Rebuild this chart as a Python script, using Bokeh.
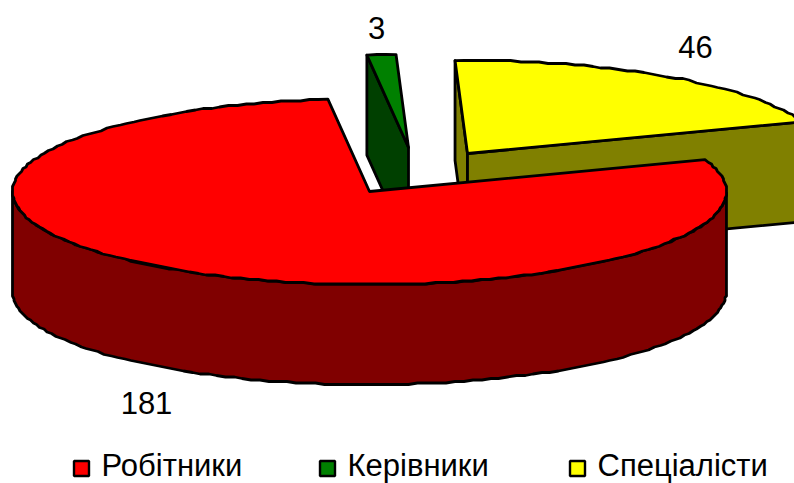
import numpy as np
from bokeh.plotting import figure
from bokeh.models import Range1d
from bokeh.core.properties import value
from bokeh.embed import file_html
from bokeh.resources import INLINE

categories = ["Робітники", "Керівники", "Спеціалісти"]
counts = [181, 3, 46]
count_labels = ["181", "3", "46"]

top_colors = ["#FF0000", "#008000", "#FFFF00"]
wall_colors = ["#800000", "#004000", "#808000"]

# layout of the projected pie, in page pixels
FIRST_ANGLE = 70.0
RX, RY, DEPTH = 357.0, 93.0, 100.0
CENTERS = [(369.0, 191.0), (408.0, 147.0), (467.0, 153.0)]
LABEL_POS = [(146, 402), (376, 27), (695, 46)]
LEGEND_SWATCH = [81, 327, 577]
LEGEND_TEXT = [101, 347, 597]
LEGEND_SWATCH_Y = 468
LEGEND_TEXT_Y = 465
FONT = value("Liberation Sans")
LW = 2.8
GRID = 1.5


def ring(c, a0, a1, dz=0.0, step=1.5):
    """Points on the projected rim between two clockwise angles from north."""
    n = max(2, int(abs(a1 - a0) / step) + 1)
    t = np.radians(np.linspace(a0, a1, n))
    x = c[0] + RX * np.sin(t)
    y = c[1] - RY * np.cos(t) + dz
    # the source is a low-resolution metafile: its rim sits on a coarse grid
    x = np.round(x / GRID) * GRID
    y = np.round(y / GRID) * GRID
    x[0], y[0] = c[0] + RX * np.sin(t[0]), c[1] - RY * np.cos(t[0]) + dz
    x[-1], y[-1] = c[0] + RX * np.sin(t[-1]), c[1] - RY * np.cos(t[-1]) + dz
    return x.tolist(), y.tolist()


total = sum(counts)
sweeps = [v / total * 360.0 for v in counts]
starts = [FIRST_ANGLE + sum(sweeps[:i]) for i in range(len(counts))]
ends = [s + w for s, w in zip(starts, sweeps)]

p = figure(width=794, height=483, x_range=Range1d(0, 794), y_range=Range1d(483, 0),
           output_backend="svg", toolbar_location=None, min_border=0)
p.axis.visible = False
p.grid.visible = False
p.outline_line_color = None
p.background_fill_color = "white"
p.border_fill_color = "white"


def draw(xs, ys, color):
    p.patch(xs, ys, fill_color=color, line_color="black", line_width=LW, line_join="round")


def cut_wall(c, a, color):
    x_edge = c[0] + RX * np.sin(np.radians(a))
    y_edge = c[1] - RY * np.cos(np.radians(a))
    draw([x_edge, c[0], c[0], x_edge], [y_edge, c[1], c[1] + DEPTH, y_edge + DEPTH], color)


def top(c, a0, a1, color):
    xs, ys = ring(c, a0, a1)
    draw([c[0]] + xs, [c[1]] + ys, color)


def outer_wall(c, a0, a1, color):
    xs, ys = ring(c, a0, a1)
    xb, yb = ring(c, a1, a0, DEPTH)
    draw(xs + xb, ys + yb, color)


# yellow slice (rearmost on the right)
c = CENTERS[2]
cut_wall(c, starts[2], wall_colors[2])
cut_wall(c, ends[2], wall_colors[2])
top(c, starts[2], ends[2], top_colors[2])

# green slice
c = CENTERS[1]
cut_wall(c, starts[1], wall_colors[1])
top(c, starts[1], ends[1], top_colors[1])

# red slice, in front
c = CENTERS[0]
outer_wall(c, 91.0, 270.0, wall_colors[0])
top(c, starts[0], ends[0], top_colors[0])

# value labels
p.text([q[0] for q in LABEL_POS], [q[1] for q in LABEL_POS], text=count_labels,
       text_font=FONT, text_font_size="31px", text_color="black",
       text_align="center", text_baseline="middle")

# legend
p.scatter(LEGEND_SWATCH, [LEGEND_SWATCH_Y] * 3, marker="square", size=15,
          fill_color=top_colors, line_color="black", line_width=2.4)
p.text(LEGEND_TEXT, [LEGEND_TEXT_Y] * 3, text=categories,
       text_font=FONT, text_font_size="31px", text_color="black",
       text_align="left", text_baseline="middle")

open("out.html", "w").write(file_html(p, INLINE))
